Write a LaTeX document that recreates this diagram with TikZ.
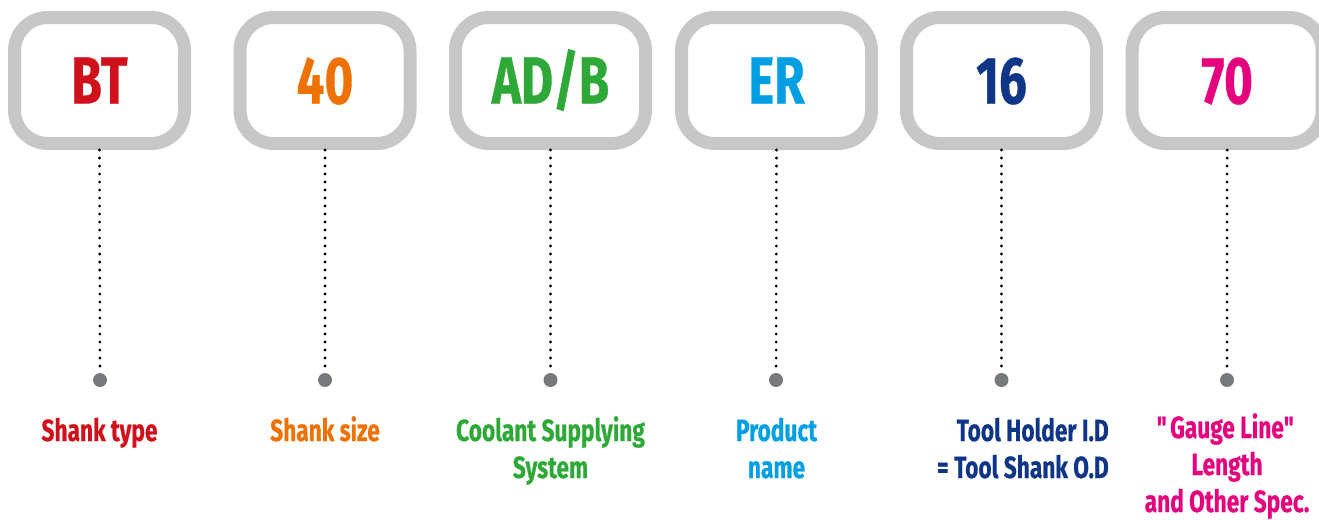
\documentclass[tikz,border=0pt]{standalone}
\usepackage{fontspec}
\setmainfont{Fira Sans}[FakeStretch=0.74, BoldFeatures={FakeBold=0.5}]
\usepackage{tikz}
\usetikzlibrary{positioning}

\definecolor{boxgray}{RGB}{198,199,198}
\definecolor{jointgray}{RGB}{119,121,124}
\definecolor{btred}{RGB}{208,17,27}
\definecolor{sizeorange}{RGB}{238,114,3}
\definecolor{adbgreen}{RGB}{46,168,54}
\definecolor{erblue}{RGB}{0,159,227}
\definecolor{idnavy}{RGB}{15,53,135}
\definecolor{lenmagenta}{RGB}{229,0,126}

\tikzset{
  codebox/.style={draw=boxgray, line width=9.75pt, rounded corners=25pt,
    minimum height=94.5pt, text height=34.5pt, text depth=0pt, inner sep=0pt,
    font=\fontsize{50}{60}\selectfont\bfseries},
  joint/.style={circle, fill=jointgray, inner sep=0pt, minimum size=10.5pt},
  leader/.style={line width=2.3pt, dash pattern=on 0pt off 6pt, line cap=round},
  caption/.style={anchor=base, inner sep=0pt, align=center,
    font=\fontsize{23}{27.75}\selectfont\bfseries}
}

\begin{document}
\begin{tikzpicture}[x=0.75pt,y=0.75pt,yscale=-1,xscale=1]
\useasboundingbox (0,0) rectangle (1319,519);

%Shape: Rounded Rect [id:bt] 
\node [codebox, minimum width=127.5pt, text=btred] (bt) at (99.5,80.5) {BT};
%Shape: Rounded Rect [id:size] 
\node [codebox, minimum width=127.5pt, text=sizeorange] (size) at (325,80.5) {40};
%Shape: Rounded Rect [id:adb] 
\node [codebox, minimum width=142.5pt, text=adbgreen] (adb) at (550.5,80.5) {AD/B};
%Shape: Rounded Rect [id:er] 
\node [codebox, minimum width=142.5pt, text=erblue] (er) at (776.5,80.5) {ER};
%Shape: Rounded Rect [id:id] 
\node [codebox, minimum width=142.5pt, text=idnavy] (id) at (1001.5,80.5) {16};
%Shape: Rounded Rect [id:len] 
\node [codebox, minimum width=142.5pt, text=lenmagenta] (len) at (1227.2,80.5) {70};

%Shape: Circle 
\node [joint] (btjoint) at (100,380) {};
\node [joint] (sizejoint) at (325,380) {};
\node [joint] (adbjoint) at (550.5,380) {};
\node [joint] (erjoint) at (776,380) {};
\node [joint] (idjoint) at (1001.5,380) {};
\node [joint] (lenjoint) at (1227,380) {};

%Straight Lines 
\draw [leader] (bt.south) -- (btjoint.north) ;
\draw [leader] (size.south) -- (sizejoint.north) ;
\draw [leader] (adb.south) -- (adbjoint.north) ;
\draw [leader] (er.south) -- (erjoint.north) ;
\draw [leader] (id.south) -- (idjoint.north) ;
\draw [leader] (len.south) -- (lenjoint.north) ;

% Text Node (base = last line)
\node [caption, text=btred] (btcap) at (99.5,441) {Shank type};
% Text Node
\node [caption, text=sizeorange] (sizecap) at (325,441) {Shank size};
% Text Node
\node [caption, text=adbgreen] (adbcap) at (550.5,478) {Coolant Supplying\\System};
% Text Node
\node [caption, text=erblue] (ercap) at (776.5,478) {Product\\name};
% Text Node
\node [caption, anchor=base east, align=right, text=idnavy] (idcap) at (1109,478) {Tool Holder I.D\\= Tool Shank O.D};
% Text Node
\node [caption, text=lenmagenta] (lencap) at (1227,512) {\textquotedbl Gauge Line\textquotedbl\\Length\\and Other Spec.};

\end{tikzpicture}
\end{document}
